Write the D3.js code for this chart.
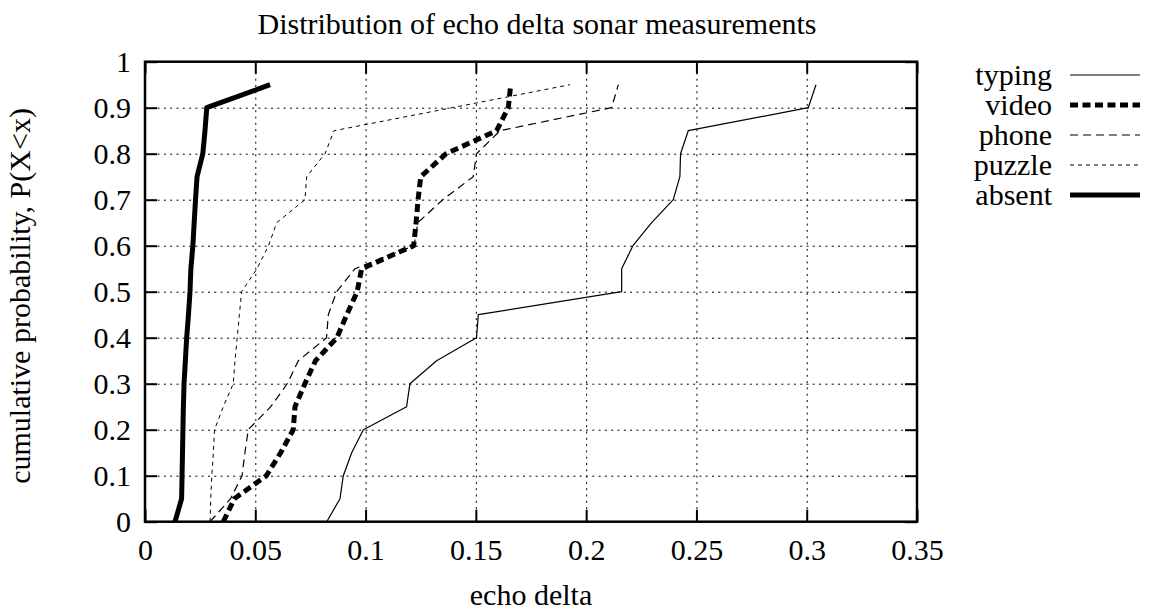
<!DOCTYPE html>
<html>
<head>
<meta charset="utf-8">
<script src="https://cdn.jsdelivr.net/npm/d3@7"></script>
<style>
  html, body { margin: 0; padding: 0; background: #fff; }
  svg { display: block; }
  svg text { font-family: "Liberation Serif", "Times New Roman", Times, serif !important; fill: #000; }
</style>
</head>
<body>
<svg id="chart" width="1151" height="610"></svg>
<script>
// ---- data ----
const levels = [0, 0.05, 0.1, 0.15, 0.2, 0.25, 0.3, 0.35, 0.4, 0.45, 0.5, 0.55, 0.6, 0.65, 0.7, 0.75, 0.8, 0.85, 0.9, 0.95];
const typing = [0.0824, 0.0884, 0.0899, 0.0937, 0.0990, 0.1186, 0.1201, 0.1322, 0.1503, 0.1511, 0.2161, 0.2161, 0.2212, 0.2297, 0.2395, 0.2425, 0.2428, 0.2463, 0.3007, 0.3042];
const video  = [0.0355, 0.0405, 0.0550, 0.0615, 0.0672, 0.0680, 0.0725, 0.0773, 0.0870, 0.0915, 0.0962, 0.0982, 0.1218, 0.1229, 0.1238, 0.1250, 0.1365, 0.1594, 0.1647, 0.1658];
const phone  = [0.0295, 0.0388, 0.0440, 0.0453, 0.0468, 0.0570, 0.0645, 0.0695, 0.0823, 0.0831, 0.0869, 0.0952, 0.1220, 0.1237, 0.1350, 0.1488, 0.1503, 0.1610, 0.2115, 0.2146];
const puzzleLevels = [0, 0.05, 0.1, 0.15, 0.2, 0.25, 0.3, 0.35, 0.4, 0.45, 0.5, 0.55, 0.6, 0.65, 0.7, 0.75, 0.8, 0.85, 0.95];
const puzzle = [0.0295, 0.0298, 0.0303, 0.0310, 0.0315, 0.0355, 0.0400, 0.0408, 0.0418, 0.0428, 0.0438, 0.0508, 0.0560, 0.0597, 0.0725, 0.0733, 0.0816, 0.0857, 0.1927];
const absent = [0.0136, 0.0166, 0.0168, 0.0170, 0.0172, 0.0174, 0.0177, 0.0183, 0.0189, 0.0197, 0.0204, 0.0208, 0.0217, 0.0223, 0.0229, 0.0236, 0.0262, 0.0272, 0.0280, 0.0567];

const seriesNames = ["typing", "video", "phone", "puzzle", "absent"];
const xTicks = [0, 0.05, 0.1, 0.15, 0.2, 0.25, 0.3, 0.35];
const xTickLabels = ["0", "0.05", "0.1", "0.15", "0.2", "0.25", "0.3", "0.35"];
const yTicks = [0, 0.1, 0.2, 0.3, 0.4, 0.5, 0.6, 0.7, 0.8, 0.9, 1];
const yTickLabels = ["0", "0.1", "0.2", "0.3", "0.4", "0.5", "0.6", "0.7", "0.8", "0.9", "1"];
const titleText = "Distribution of echo delta sonar measurements";
const xLabelText = "echo delta";
const yLabelText = "cumulative probability, P(X<x)";

// ---- styles ----
const styles = {
  typing: { width: 1.2, dash: null },
  video:  { width: 5,   dash: "8,4.5" },
  phone:  { width: 1.2, dash: "8,5" },
  puzzle: { width: 1,   dash: "4,4" },
  absent: { width: 5,   dash: null }
};
const seriesData = {
  typing: typing.map((v, i) => [v, levels[i]]),
  video:  video.map((v, i) => [v, levels[i]]),
  phone:  phone.map((v, i) => [v, levels[i]]),
  puzzle: puzzle.map((v, i) => [v, puzzleLevels[i]]),
  absent: absent.map((v, i) => [v, levels[i]])
};

const L = 145, R = 917, T = 61.7, B = 521.7;
const FS = 30;
const FONT = '"Liberation Serif", "Times New Roman", Times, serif';
const svg = d3.select("#chart");
const x = d3.scaleLinear().domain([0, 0.35]).range([L, R]);
const y = d3.scaleLinear().domain([0, 1]).range([B, T]);

// grid
const gx = svg.append("g").attr("transform", `translate(0,${B})`)
  .call(d3.axisBottom(x).tickValues(xTicks.slice(1, -1)).tickSize(-(B - T)).tickFormat(""));
const gy = svg.append("g").attr("transform", `translate(${L},0)`)
  .call(d3.axisLeft(y).tickValues(yTicks.slice(1, -1)).tickSize(-(R - L)).tickFormat(""));
[gx, gy].forEach(g => {
  g.select(".domain").remove();
  g.selectAll("line").attr("stroke", "#000").attr("stroke-width", 1).attr("stroke-dasharray", "2,4.3");
});

// series
const line = d3.line().x(d => x(d[0])).y(d => y(d[1]));
seriesNames.forEach(name => {
  const s = styles[name];
  svg.append("path").datum(seriesData[name])
    .attr("d", line)
    .attr("fill", "none").attr("stroke", "#000")
    .attr("stroke-width", s.width)
    .attr("stroke-linejoin", "round")
    .attr("stroke-dasharray", s.dash);
});

// axes with inward ticks
function styleAxis(g) {
  g.attr("font-family", FONT);
  g.select(".domain").remove();
  g.selectAll(".tick line").attr("stroke", "#000").attr("stroke-width", 2);
  g.selectAll("text").attr("font-size", FS).style("font-family", FONT);
}
const xb = svg.append("g").attr("transform", `translate(0,${B})`)
  .call(d3.axisBottom(x).tickValues(xTicks).tickSizeInner(-12).tickSizeOuter(0).tickPadding(17)
    .tickFormat((d, i) => xTickLabels[i]));
styleAxis(xb);
const yl = svg.append("g").attr("transform", `translate(${L},0)`)
  .call(d3.axisLeft(y).tickValues(yTicks).tickSizeInner(-12).tickSizeOuter(0).tickPadding(14)
    .tickFormat((d, i) => yTickLabels[i]));
styleAxis(yl);
const xt = svg.append("g").attr("transform", `translate(0,${T})`)
  .call(d3.axisTop(x).tickValues(xTicks).tickSizeInner(-12).tickSizeOuter(0).tickFormat(""));
styleAxis(xt);
const yr = svg.append("g").attr("transform", `translate(${R},0)`)
  .call(d3.axisRight(y).tickValues(yTicks).tickSizeInner(-12).tickSizeOuter(0).tickFormat(""));
styleAxis(yr);

// border
svg.append("rect").attr("x", L).attr("y", T).attr("width", R - L).attr("height", B - T)
  .attr("fill", "none").attr("stroke", "#000").attr("stroke-width", 2.5);

// titles
function addText(attrs, txt) {
  const t = svg.append("text").style("font-family", FONT).attr("font-size", FS).text(txt);
  Object.entries(attrs).forEach(([k, v]) => t.attr(k, v));
  return t;
}
addText({ x: 537, y: 34, "text-anchor": "middle" }, titleText);
addText({ x: 531, y: 605, "text-anchor": "middle" }, xLabelText);
addText({ transform: "translate(30,296) rotate(-90)", "text-anchor": "middle" }, yLabelText);

// legend
seriesNames.forEach((name, i) => {
  const ly = 75 + i * 30;
  const s = styles[name];
  addText({ x: 1052, y: ly, dy: "0.32em", "text-anchor": "end" }, name);
  svg.append("line").attr("x1", 1070).attr("x2", 1140).attr("y1", ly).attr("y2", ly)
    .attr("stroke", "#000").attr("stroke-width", s.width).attr("stroke-dasharray", s.dash);
});
</script>
</body>
</html>
